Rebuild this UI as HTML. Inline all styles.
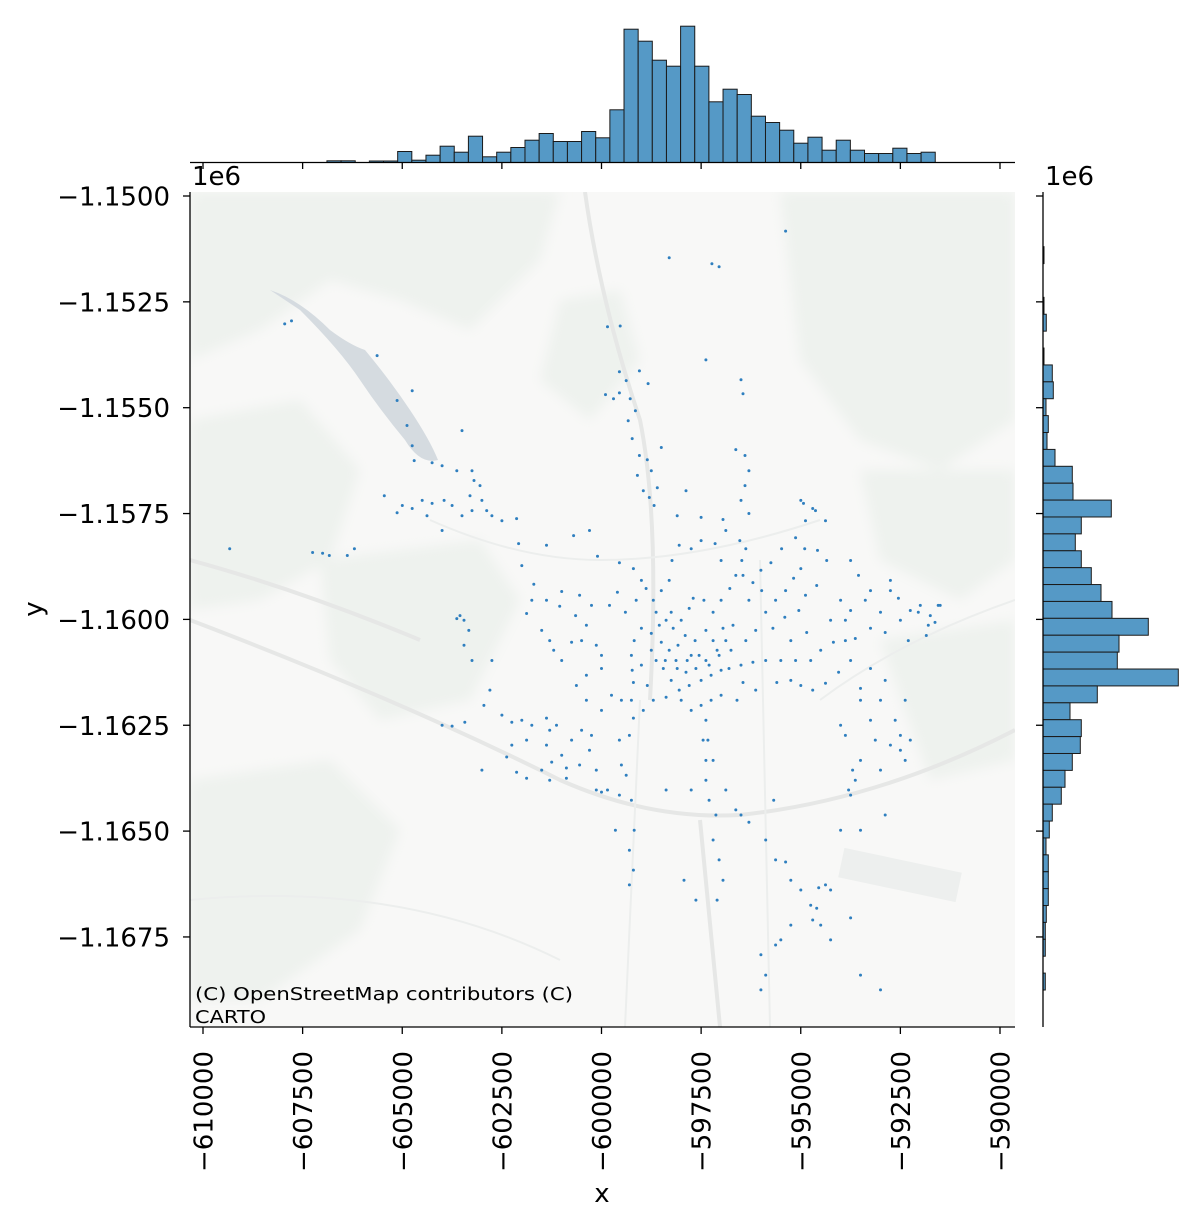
<!DOCTYPE html>
<html><head><meta charset="utf-8">
<style>
html,body{margin:0;padding:0;background:#fff;}
svg text{font-family:"DejaVu Sans","Liberation Sans",sans-serif;fill:#000;}
</style></head>
<body>
<svg id="chart" width="1204" height="1227" viewBox="0 0 1204 1227" xmlns="http://www.w3.org/2000/svg">
  <defs>
    <clipPath id="mapclip"><rect x="190" y="192" width="825" height="835"/></clipPath>
    <filter id="blur"><feGaussianBlur stdDeviation="6"/></filter>
  </defs>
  <g id="map" clip-path="url(#mapclip)">
    <rect x="190" y="192" width="825" height="835" fill="#f8f8f7"/>
    <g filter="url(#blur)" fill="#eef2ee">
      <path d="M190 192 L560 192 L540 260 L470 330 L400 300 L330 280 L260 330 L190 360 Z"/>
      <path d="M190 420 L300 400 L360 470 L330 560 L260 600 L190 610 Z"/>
      <path d="M320 560 L480 540 L520 600 L470 700 L380 720 L330 660 Z"/>
      <path d="M780 192 L1015 192 L1015 420 L940 470 L860 440 L800 360 Z"/>
      <path d="M860 470 L1015 470 L1015 560 L960 600 L880 560 Z"/>
      <path d="M190 780 L330 760 L400 830 L360 930 L260 1000 L190 1000 Z"/>
      <path d="M880 640 L1015 620 L1015 760 L930 780 Z"/>
      <path d="M560 300 L620 290 L640 360 L590 420 L540 380 Z"/>
    </g>
    <path d="M270 290 Q300 300 330 330 Q350 345 365 350 Q390 380 410 410 Q430 440 438 460 Q420 465 405 440 Q380 410 360 380 Q340 350 300 310 Z" fill="#d5dbe0"/>
    <g fill="none" stroke="#e6e7e6" stroke-width="4">
      <path d="M190 620 Q400 700 560 780 Q650 820 740 815 Q880 800 1015 730"/>
      <path d="M700 820 L720 1027"/>
      <path d="M585 192 Q600 300 640 420 Q660 520 650 700"/>
      <path d="M190 560 Q300 590 420 640"/>
    </g>
    <g fill="none" stroke="#eceeed" stroke-width="2">
      <path d="M760 560 L770 1027"/>
      <path d="M640 700 L625 1027"/>
      <path d="M430 520 Q520 560 600 560 Q700 560 820 520"/>
      <path d="M820 700 Q900 640 1015 600"/>
      <path d="M190 900 Q400 880 560 960"/>
    </g>
    <rect x="840" y="860" width="120" height="30" fill="#edefee" transform="rotate(12 900 875)"/>
    <text x="195" y="1000" font-size="18" textLength="378" lengthAdjust="spacingAndGlyphs">(C) OpenStreetMap contributors (C)</text>
    <text x="195" y="1023" font-size="18" textLength="71" lengthAdjust="spacingAndGlyphs">CARTO</text>
  </g>
  <g id="points"></g>
  <g id="axes"></g>
  <g id="tophist"></g>
  <g id="righthist"></g>
</svg>
<script>
// scatter data (thousands of metres)
const xs = [-595.38,-598.30,-597.23,-597.05,-599.85,-599.53,-597.38,-596.50,-596.45,-599.05,-598.83,-599.38,-599.55,-599.70,-599.28,-599.15,-599.33,-599.23,-599.05,-598.85,-599.10,-598.95,-598.80,-598.68,-598.60,-598.75,-599.90,-599.55,-596.63,-596.40,-596.30,-596.40,-596.50,-596.30,-598.50,-597.88,-598.10,-597.50,-596.95,-596.88,-596.53,-596.38,-596.48,-596.63,-597.00,-597.15,-597.50,-597.75,-598.05,-598.23,-598.30,-598.50,-598.70,-599.00,-599.20,-599.55,-600.10,-600.30,-600.70,-601.38,-602.08,-602.00,-601.70,-601.00,-600.55,-600.25,-599.80,-599.60,-599.40,-599.13,-598.88,-598.63,-598.38,-598.20,-598.00,-597.80,-597.70,-597.43,-597.20,-597.00,-596.78,-596.45,-596.20,-596.00,-595.75,-595.48,-595.13,-594.90,-594.63,-595.00,-594.88,-595.98,-596.30,-596.70,-596.88,-597.10,-597.38,-597.63,-597.88,-598.13,-598.30,-598.50,-598.75,-599.00,-599.18,-599.25,-599.23,-599.20,-599.25,-599.20,-599.30,-599.00,-598.63,-598.45,-598.25,-598.05,-597.80,-597.50,-597.25,-597.00,-596.80,-596.50,-596.20,-595.88,-595.50,-595.13,-594.75,-594.50,-594.18,-593.88,-593.75,-594.05,-594.38,-594.70,-595.00,-595.25,-595.60,-596.13,-596.45,-596.60,-597.00,-597.25,-597.50,-597.75,-598.00,-598.38,-598.70,-598.85,-598.95,-598.75,-598.55,-598.25,-597.90,-597.65,-597.38,-597.20,-596.95,-597.75,-598.08,-598.40,-598.10,-597.85,-597.55,-597.30,-597.05,-596.75,-596.38,-596.13,-595.88,-595.63,-595.38,-595.18,-595.00,-594.58,-594.35,-594.60,-594.88,-595.05,-595.40,-595.70,-595.25,-594.85,-594.25,-593.75,-593.38,-593.00,-593.25,-592.88,-592.50,-592.25,-592.00,-591.75,-591.55,-591.85,-591.80,-593.88,-592.75,-592.55,-594.00,-593.63,-597.38,-597.33,-597.38,-597.38,-597.30,-597.13,-597.20,-597.05,-596.95,-597.10,-597.45,-597.20,-599.25,-599.18,-599.30,-599.20,-599.30,-599.65,-599.85,-599.55,-599.38,-597.75,-597.93,-598.38,-597.63,-596.50,-596.30,-596.88,-596.63,-595.68,-595.88,-595.63,-595.38,-595.25,-595.00,-594.75,-594.60,-594.55,-594.38,-594.25,-594.70,-594.50,-595.50,-595.63,-596.00,-595.88,-596.00,-595.25,-593.75,-594.25,-593.50,-593.00,-594.00,-593.50,-592.88,-593.75,-593.80,-593.63,-593.70,-593.50,-593.13,-592.75,-592.50,-592.38,-593.00,-592.63,-592.50,-592.25,-592.38,-593.50,-593.25,-594.00,-593.88,-593.50,-593.00,-592.88,-593.25,-602.50,-602.25,-602.00,-601.75,-601.38,-601.30,-601.88,-602.25,-602.38,-602.13,-601.88,-601.50,-601.25,-601.00,-600.88,-600.55,-600.30,-600.25,-600.13,-600.88,-601.30,-600.75,-601.13,-600.50,-601.38,-600.13,-600.00,-599.50,-599.55,-600.00,-599.75,-599.50,-600.38,-600.63,-600.38,-600.00,-601.00,-601.30,-601.20,-600.75,-600.50,-600.13,-600.00,-600.38,-600.65,-601.05,-601.38,-601.75,-601.88,-601.50,-602.75,-602.80,-602.95,-603.25,-603.45,-603.63,-603.55,-603.45,-603.33,-604.00,-603.75,-603.43,-603.00,-603.25,-603.20,-603.05,-603.00,-603.25,-603.50,-603.75,-603.95,-604.25,-604.50,-604.75,-605.00,-605.13,-605.45,-604.88,-604.75,-604.70,-604.25,-604.00,-603.50,-602.75,-602.50,-602.13,-602.88,-603.63,-603.30,-604.00,-604.38,-606.38,-606.20,-607.25,-607.00,-606.83,-609.33,-607.78,-607.95,-605.63,-604.75,-605.13,-593.75,-593.55,-593.25,-592.75,-592.05,-591.63,-591.50,-592.30,-594.38,-594.70,-594.93];
const ys = [-1150.83,-1151.46,-1151.60,-1151.67,-1153.09,-1153.07,-1153.87,-1154.34,-1154.67,-1154.13,-1154.43,-1154.36,-1154.65,-1154.79,-1154.79,-1155.07,-1155.31,-1155.73,-1156.13,-1156.23,-1156.60,-1156.96,-1157.12,-1157.31,-1156.89,-1156.49,-1154.69,-1154.15,-1155.99,-1156.13,-1156.49,-1156.84,-1157.19,-1157.50,-1155.94,-1156.96,-1157.55,-1157.59,-1157.64,-1157.90,-1158.14,-1158.33,-1158.61,-1158.96,-1158.61,-1158.21,-1158.14,-1158.33,-1158.25,-1158.61,-1159.08,-1159.32,-1159.55,-1159.08,-1158.80,-1158.66,-1158.51,-1157.90,-1158.02,-1158.25,-1158.21,-1158.73,-1159.17,-1159.34,-1159.43,-1159.67,-1159.67,-1159.36,-1159.83,-1159.55,-1159.27,-1159.83,-1160.02,-1160.21,-1160.02,-1159.74,-1159.50,-1159.55,-1159.83,-1159.55,-1159.27,-1158.96,-1159.13,-1158.84,-1158.66,-1158.33,-1158.07,-1158.33,-1157.43,-1157.19,-1157.67,-1159.32,-1159.55,-1160.14,-1160.50,-1160.73,-1160.97,-1161.16,-1161.25,-1160.97,-1160.73,-1160.54,-1160.33,-1160.21,-1160.50,-1160.85,-1161.20,-1161.49,-1161.91,-1162.33,-1162.74,-1161.08,-1160.97,-1161.16,-1161.44,-1161.67,-1161.56,-1161.44,-1161.32,-1161.20,-1161.16,-1161.08,-1161.01,-1160.97,-1160.97,-1160.97,-1160.97,-1160.73,-1160.54,-1160.50,-1160.97,-1161.25,-1161.51,-1161.67,-1161.56,-1161.44,-1161.49,-1161.67,-1161.49,-1161.91,-1161.79,-1161.91,-1162.03,-1162.15,-1161.91,-1161.84,-1161.91,-1161.56,-1162.15,-1160.73,-1160.14,-1159.83,-1160.38,-1160.50,-1160.26,-1160.50,-1160.21,-1160.85,-1160.61,-1160.97,-1161.16,-1160.97,-1160.85,-1161.08,-1160.85,-1160.73,-1160.50,-1160.26,-1159.83,-1159.55,-1159.32,-1159.03,-1158.80,-1158.37,-1158.61,-1159.20,-1159.43,-1159.79,-1159.95,-1160.21,-1160.50,-1160.31,-1160.02,-1159.79,-1159.55,-1159.83,-1160.21,-1160.31,-1160.02,-1159.79,-1159.67,-1159.91,-1159.67,-1160.38,-1160.14,-1160.02,-1159.32,-1159.50,-1159.55,-1160.45,-1162.38,-1162.85,-1163.33,-1163.80,-1164.27,-1164.62,-1165.21,-1165.68,-1166.16,-1166.63,-1162.85,-1163.33,-1164.27,-1164.98,-1165.45,-1165.92,-1166.27,-1164.98,-1164.03,-1164.15,-1163.68,-1164.03,-1166.16,-1164.03,-1166.63,-1164.62,-1164.79,-1164.03,-1164.50,-1164.27,-1165.21,-1165.68,-1165.73,-1166.16,-1166.39,-1166.75,-1166.82,-1166.34,-1166.27,-1166.39,-1167.10,-1167.22,-1167.57,-1167.69,-1167.92,-1168.40,-1168.75,-1167.22,-1167.05,-1167.57,-1168.40,-1168.75,-1164.98,-1164.98,-1164.62,-1164.15,-1164.03,-1163.80,-1163.56,-1163.33,-1162.85,-1162.97,-1163.09,-1163.33,-1163.56,-1162.38,-1162.74,-1162.85,-1161.91,-1161.91,-1162.38,-1162.50,-1162.74,-1161.63,-1161.91,-1161.44,-1161.16,-1162.26,-1162.43,-1162.38,-1162.50,-1162.33,-1162.62,-1162.85,-1162.97,-1163.25,-1163.61,-1163.75,-1163.56,-1163.37,-1163.21,-1163.51,-1163.44,-1163.09,-1162.74,-1163.56,-1163.75,-1163.80,-1162.85,-1162.50,-1162.62,-1162.97,-1164.03,-1164.08,-1163.44,-1162.85,-1162.15,-1161.79,-1161.91,-1161.91,-1161.56,-1161.32,-1161.16,-1160.97,-1160.50,-1160.73,-1160.54,-1160.50,-1160.61,-1160.85,-1160.14,-1159.91,-1159.69,-1159.55,-1159.55,-1159.86,-1160.26,-1160.97,-1161.67,-1162.03,-1160.97,-1160.61,-1159.98,-1159.91,-1160.02,-1160.26,-1162.50,-1162.52,-1162.43,-1163.56,-1156.49,-1156.72,-1156.84,-1157.19,-1157.43,-1157.55,-1157.31,-1157.19,-1157.26,-1157.19,-1157.38,-1157.31,-1157.48,-1157.08,-1155.42,-1155.90,-1156.25,-1156.30,-1156.37,-1155.54,-1157.55,-1157.67,-1157.62,-1157.43,-1156.49,-1157.08,-1157.90,-1157.55,-1158.49,-1158.33,-1158.42,-1158.44,-1158.49,-1158.33,-1152.95,-1153.02,-1153.77,-1154.60,-1154.83,-1158.61,-1158.96,-1159.32,-1159.08,-1159.83,-1160.07,-1159.67,-1160.50,-1157.67,-1157.38,-1157.26];

// x marginal histogram
const xBinStart = -606.89;
const xBinWidth = 0.355;
const xCounts = [1.7,1.7,0,1.5,1.5,11,2.3,7.3,16.3,10.3,26.3,5.7,10.3,15,22.3,29,21,21,31,24.7,52.7,133.3,121.3,102.3,96.3,136.3,96.3,60.7,73.3,68,46.3,40,32.3,19.3,25.3,12.3,22.3,12.3,9,9,14.3,9,10.3];
// y marginal histogram (bins going downward from top edge)
const yBinTop = -1151.197;
const yBinHeight = 0.399;
const yCounts = [1,0,0,1,3.3,0,1,9.3,10.3,3,5.3,4,12,29.3,30,68.3,38.3,32.3,38.3,48.3,58,69,105.3,76,74.3,135.3,54.3,27,38.3,37.3,29.3,22,18.3,9.3,6.3,3,5.3,5.3,5.3,3.3,2.3,2.3,0,2.3];

const xTicks = [-610000,-607500,-605000,-602500,-600000,-597500,-595000,-592500,-590000];
const yTicks = [-1.15,-1.1525,-1.155,-1.1575,-1.16,-1.1625,-1.165,-1.1675];
const yTickLabels = ["\u22121.1500","\u22121.1525","\u22121.1550","\u22121.1575","\u22121.1600","\u22121.1625","\u22121.1650","\u22121.1675"];

// axis functions (data in thousands)
const X0 = 203, XPX = 39.85;
const Y0 = 196, YPX = 42.34;
function sx(vk){ return X0 + (vk + 610) * XPX; }
function sy(vk){ return Y0 + (-1150 - vk) * YPX; }

const NS = "http://www.w3.org/2000/svg";
function mk(tag, attrs, parent){
  const e = document.createElementNS(NS, tag);
  for (const k in attrs) e.setAttribute(k, attrs[k]);
  parent.appendChild(e);
  return e;
}
const FS = 26;

// scatter
const pg = document.getElementById('points');
for (let i = 0; i < xs.length; i++){
  const c = mk('circle', {cx: sx(xs[i]).toFixed(1), cy: sy(ys[i]).toFixed(1), r: 1.5, fill: '#2f7fbf'}, pg);
  
  
}

const ax = document.getElementById('axes');
let l = mk('line', {x1:190, y1:192, x2:190, y2:1027, stroke:'#000', 'stroke-width':1.3}, ax);


l = mk('line', {x1:190, y1:1027, x2:1015, y2:1027, stroke:'#000', 'stroke-width':1.3}, ax);



xTicks.forEach(function(v){
  const px = sx(v/1000);
  const t1 = mk('line', {x1:px, y1:1027, x2:px, y2:1034, stroke:'#000', 'stroke-width':1.3}, ax);
  
  
  const t2 = mk('line', {x1:px, y1:162, x2:px, y2:169, stroke:'#000', 'stroke-width':1.3}, ax);
  
  
  const tx = mk('text', {x:0, y:0, 'font-size':FS, 'text-anchor':'end', transform:'translate(' + (px+9.5) + ',1051) rotate(-90)'}, ax);
  tx.textContent = '\u2212' + String(Math.abs(v));
  
  
});
yTicks.forEach(function(v, i){
  const py = sy(v*1000);
  const t1 = mk('line', {x1:183, y1:py, x2:190, y2:py, stroke:'#000', 'stroke-width':1.3}, ax);
  
  
  const t2 = mk('line', {x1:1036, y1:py, x2:1043, y2:py, stroke:'#000', 'stroke-width':1.3}, ax);
  
  
  const tx = mk('text', {x:170, y:py+9.5, 'font-size':FS, 'text-anchor':'end'}, ax);
  tx.textContent = yTickLabels[i];
  
  
});
let t = mk('text', {x:192, y:185, 'font-size':FS}, ax);
t.textContent = '1e6';


t = mk('text', {x:1045, y:185, 'font-size':FS}, ax);
t.textContent = '1e6';


t = mk('text', {x:602, y:1202, 'font-size':FS, 'text-anchor':'middle'}, ax);
t.textContent = 'x';


t = mk('text', {x:0, y:0, 'font-size':FS, 'text-anchor':'middle', transform:'translate(42,609) rotate(-90)'}, ax);
t.textContent = 'y';



// top histogram
const th = document.getElementById('tophist');
const TOPBASE = 162.5;
xCounts.forEach(function(c, i){
  if (c <= 0) return;
  const xa = sx(xBinStart + i*xBinWidth), xb = sx(xBinStart + (i+1)*xBinWidth);
  const r = mk('rect', {x:xa, y:TOPBASE - c, width:xb-xa, height:c, fill:'#5599c6', stroke:'#1a1a1a', 'stroke-width':1}, th);
  
  
});
l = mk('line', {x1:190, y1:TOPBASE, x2:1015, y2:TOPBASE, stroke:'#000', 'stroke-width':1.3}, th);



// right histogram
const rh = document.getElementById('righthist');
const RBASE = 1043;
yCounts.forEach(function(c, i){
  if (c <= 0) return;
  const ya = sy(yBinTop - i*yBinHeight), yb = sy(yBinTop - (i+1)*yBinHeight);
  const r = mk('rect', {x:RBASE, y:ya, width:c, height:yb-ya, fill:'#5599c6', stroke:'#1a1a1a', 'stroke-width':1}, rh);
  
  
});
l = mk('line', {x1:RBASE, y1:192, x2:RBASE, y2:1027, stroke:'#000', 'stroke-width':1.3}, rh);


</script>
</body></html>
